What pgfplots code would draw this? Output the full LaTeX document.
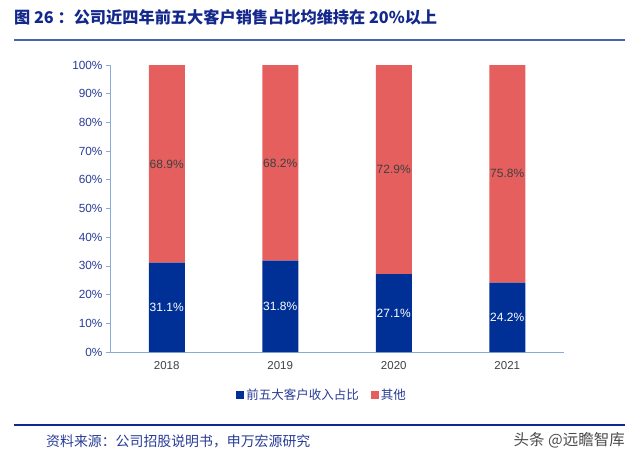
\documentclass[border=0pt]{standalone}
\usepackage{pgfplots}
\pgfplotsset{compat=1.18}
\usepackage{fontspec}
\setmainfont{Liberation Sans}
\newfontfamily\cjk{Noto Sans CJK SC}
\definecolor{barblue}{RGB}{0,48,150}
\definecolor{barred}{RGB}{230,95,95}
\definecolor{titleblue}{RGB}{20,40,140}
\definecolor{lineblue}{RGB}{70,100,170}
\definecolor{axisblue}{RGB}{140,170,215}
\definecolor{tickblue}{RGB}{40,60,150}
\definecolor{labgray}{RGB}{64,64,64}
\begin{document}
\begin{tikzpicture}
\useasboundingbox (0,0) rectangle (640bp,-458bp);
\node[anchor=west,text=titleblue,font=\cjk\bfseries\fontsize{16.2bp}{19bp}\selectfont,inner sep=0pt] at (14bp,-17bp) {图 26 ：公司近四年前五大客户销售占比均维持在 20\%以上};
\draw[color=lineblue,line width=1.2bp] (14bp,-40bp) -- (625bp,-40bp);
\draw[color=titleblue,line width=1.2bp] (14bp,-425bp) -- (625bp,-425bp);
\node[anchor=west,text=tickblue,font=\cjk\fontsize{13.9bp}{16bp}\selectfont,inner sep=0pt] at (46bp,-441bp) {资料来源：公司招股说明书，申万宏源研究};
\node[anchor=east,text=black!70,font=\cjk\fontsize{15.5bp}{17bp}\selectfont,inner sep=0pt] at (625bp,-440bp) {头条 @远瞻智库};
\begin{axis}[
  at={(110bp,-352bp)}, anchor=south west,
  scale only axis, width=454bp, height=287bp,
  ybar stacked, bar width=36bp,
  xmin=-0.5, xmax=3.5, ymin=0, ymax=100,
  axis x line=bottom, axis y line=left,
  axis line style={draw=axisblue,line width=0.8bp,-},
  xtick={0,1,2,3}, xticklabels={2018,2019,2020,2021},
  extra x ticks={0.5,1.5,2.5,3.5}, extra x tick labels={},
  extra x tick style={major tick length=4bp, tick style={draw=axisblue,line width=0.8bp}},
  x tick style={draw=none},
  ytick={0,10,...,100},
  yticklabel={\pgfmathprintnumber{\tick}\%},
  /pgf/number format/assume math mode=true,
  tick align=outside, major tick length=4bp,
  y tick style={draw=axisblue,line width=0.8bp},
  x tick label style={font=\fontsize{11.5bp}{13bp}\selectfont,text=labgray},
  y tick label style={font=\fontsize{11.8bp}{13bp}\selectfont,text=tickblue},
  xticklabel style={yshift=-2bp},
  legend style={at={(0.467,-0.15)},anchor=center,draw=none,legend columns=2,
    font=\cjk\fontsize{12.5bp}{15bp}\selectfont,text=tickblue,
    /tikz/every even column/.append style={column sep=10bp}},
  legend image code/.code={\fill[#1] (0bp,-4bp) rectangle (8bp,4bp);},
  nodes near coords,
  every node near coord/.append style={font=\fontsize{12bp}{14bp}\selectfont},
]
\addplot[fill=barblue,draw=none,
  nodes near coords={\pgfmathprintnumber[fixed,precision=1,fixed zerofill]{\pgfplotspointmeta}\%},
  every node near coord/.append style={text=white,anchor=center},
  point meta=explicit] coordinates {(0,31.1)[31.1] (1,31.8)[31.8] (2,27.1)[27.1] (3,24.2)[24.2]};
\addplot[fill=barred,draw=none,
  nodes near coords={\pgfmathprintnumber[fixed,precision=1,fixed zerofill]{\pgfplotspointmeta}\%},
  every node near coord/.append style={text=labgray,anchor=center},
  point meta=explicit] coordinates {(0,68.9)[68.9] (1,68.2)[68.2] (2,72.9)[72.9] (3,75.8)[75.8]};
\legend{前五大客户收入占比,其他}
\end{axis}
\end{tikzpicture}
\end{document}
